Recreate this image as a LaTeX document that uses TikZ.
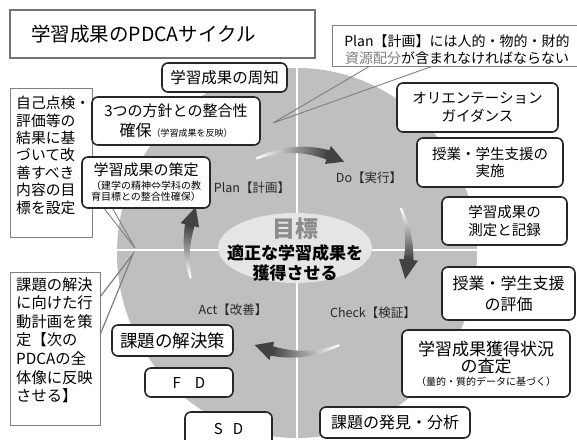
\documentclass[tikz,border=0pt]{standalone}
\usepackage{fontspec}
\setmainfont{Noto Sans CJK JP}
\usetikzlibrary{shapes.geometric}
\newcommand\fsz[2]{\fontsize{#1}{#2}\selectfont}
\newcommand\cycarrow[4]{%
  \foreach \i in {0,...,29}{%
    \pgfmathsetmacro\aa{#2+(#3-#2)*\i/30}%
    \pgfmathsetmacro\ab{#2+(#3-#2)*(\i+1.4)/30}%
    \pgfmathsetmacro\pc{int(74*\i/29)}%
    \pgfmathsetmacro\lw{2+7.5*\i/29}%
    \draw[line width=\lw pt, draw=black!\pc] ([shift={(297,250)}]\aa:#1) -- ([shift={(297,250)}]\ab:#1);
  }%
  \fill[black!74] ([shift={(297,250)}]#3:{#1+9.5}) -- ([shift={(297,250)}]#4:#1) -- ([shift={(297,250)}]#3:{#1-9.5}) -- cycle;
}
\begin{document}
\begin{tikzpicture}[x=1pt,y=-1pt,
  rbox/.style={draw=black!85, line width=1.6pt, rounded corners=6pt, fill=white, align=center, inner sep=0pt},
  sqbox/.style={draw=black!50, line width=0.9pt, fill=white, inner sep=0pt},
  tail/.style={draw=black!50, line width=0.9pt},
  lbl/.style={font=\fsz{12.5}{14}, text=black!85, inner sep=0pt},
  txt/.style={inner sep=0pt, align=left}]
\useasboundingbox (0,0) rectangle (577,439);
\clip (0,0) rectangle (577,439);

% big disc and cross
\node[ellipse, fill=black!25, minimum width=360, minimum height=370, inner sep=0pt] (disc) at (297,253) {};
\begin{scope}
  \clip (297,253) ellipse [x radius=180, y radius=185];
  \draw[white, line width=2pt] (297,60) -- (297,445);
  \draw[white, line width=2pt] (110,250) -- (485,250);
\end{scope}

% goal ellipse
\node[ellipse, fill=black!10, minimum width=154, minimum height=70, inner sep=0pt] (goal) at (295,248) {};
\node[inner sep=0pt, font=\bfseries\fsz{23}{26}, text=black!45] (goalhead) at (295,229) {目標};
\node[inner sep=0pt, align=center, font=\bfseries\fsz{17}{20}] (goaltext) at (295,263) {適正な学習成果を\\獲得させる};

% cycle arrows
\cycarrow{100}{-114}{-72}{-62}
\cycarrow{112}{-22}{5}{15}
\cycarrow{104}{66}{104}{114}
\cycarrow{110}{-195}{-167}{-157}

% phase labels
\node[lbl] (plan) at (252,188) {Plan【計画】};
\node[lbl] (do) at (369,178) {Do【実行】};
\node[lbl] (act) at (233,310) {Act【改善】};
\node[lbl] (check) at (373,313) {Check【検証】};

% title
\node[draw=black!55, line width=1.2pt, fill=white, minimum width=305, minimum height=48, inner sep=0pt] (titlebox) at (162.5,34) {};
\node[anchor=west, inner sep=0pt, font=\fsz{19.5}{22}] (title) at (31,34) {学習成果のPDCAサイクル};

% Plan callout
\coordinate (plantip) at (273,123);
\draw[tail] (370,66) -- (plantip) -- (433,66);
\node[sqbox, minimum width=253, minimum height=41] (planbox) at (458.5,45.5) {};
\node[inner sep=0pt, align=center, font=\fsz{14}{17}] (plantext) at (457,50) {Plan【計画】には人的・物的・財的\\{\color{black!50}資源配分}が含まれなければならない};

% left upper callout
\coordinate (selftip) at (135,248);
\draw[tail] (92,172) -- (selftip) -- (92,193);
\node[sqbox, minimum width=82, minimum height=149] (selfbox) at (51,162.5) {};
\node[txt, anchor=north west, font=\fsz{14.8}{17.4}] (selftext) at (16,96) {自己点検・\\評価等の\\結果に基\\づいて改\\善すべき\\内容の目\\標を設定};

% left lower callout
\coordinate (acttip) at (133,254);
\draw[tail] (100,297) -- (acttip) -- (100,335);
\node[sqbox, minimum width=90, minimum height=153] (actbox) at (55,348.5) {};
\node[txt, anchor=north west, font=\fsz{15.3}{18.6}] (acttext) at (16,277) {課題の解決\\に向けた行\\動計画を策\\定【次の\\PDCAの全\\体像に反映\\させる】};
\draw[tail] (100,297) -- (acttip) -- (100,335);

% plan boxes
\node[rbox, minimum width=125, minimum height=29, font=\fsz{15.5}{18}] (shuchi) at (224.5,77.5) {学習成果の周知};
\node[rbox, minimum width=168, minimum height=48, font=\fsz{15}{20}] (hoshin) at (176,121) {3つの方針との整合性\\{\fsz{16}{20}確保}{\fsz{9}{20}（学習成果を反映）}};
\node[rbox, minimum width=128, minimum height=51, font=\fsz{10}{11.5}] (sakutei) at (146,182.5) {{\fsz{15}{16}学習成果の策定}\\[2pt]（建学の精神⇔学科の教\\育目標との整合性確保）};

% do boxes
\node[rbox, minimum width=161, minimum height=49, font=\fsz{14.5}{17.5}] (orient) at (477.5,107.5) {オリエンテーション\\ガイダンス};
\node[rbox, minimum width=146, minimum height=49, font=\fsz{14.5}{17.5}] (jisshi) at (490,162.5) {授業・学生支援の\\実施};
\node[rbox, minimum width=125, minimum height=48, font=\fsz{14.5}{17.5}] (sokutei) at (504.5,221) {学習成果の\\測定と記録};

% check boxes
\node[rbox, minimum width=133, minimum height=53, font=\fsz{16}{21}] (hyoka) at (508.5,293.5) {授業・学生支援\\の評価};
\node[rbox, minimum width=168, minimum height=67, font=\fsz{10}{13}] (satei) at (486,363.5) {{\fsz{17}{22}学習成果獲得状況}\\{\fsz{17}{22}の査定}\\（量的・質的データに基づく）};
\node[rbox, minimum width=150, minimum height=31, font=\fsz{16}{18}] (hakken) at (395,422.5) {課題の発見・分析};

% act boxes
\node[rbox, minimum width=121, minimum height=31, font=\fsz{17.5}{20}] (kaiketsu) at (172.5,340.5) {課題の解決策};
\node[rbox, minimum width=88, minimum height=29, font=\fsz{15}{18}] (fd) at (189,382.5) {F\hspace{14pt}D};
\node[rbox, minimum width=87, minimum height=34, font=\fsz{15}{18}] (sd) at (228.5,429) {S\hspace{10pt}D};
\end{tikzpicture}
\end{document}
